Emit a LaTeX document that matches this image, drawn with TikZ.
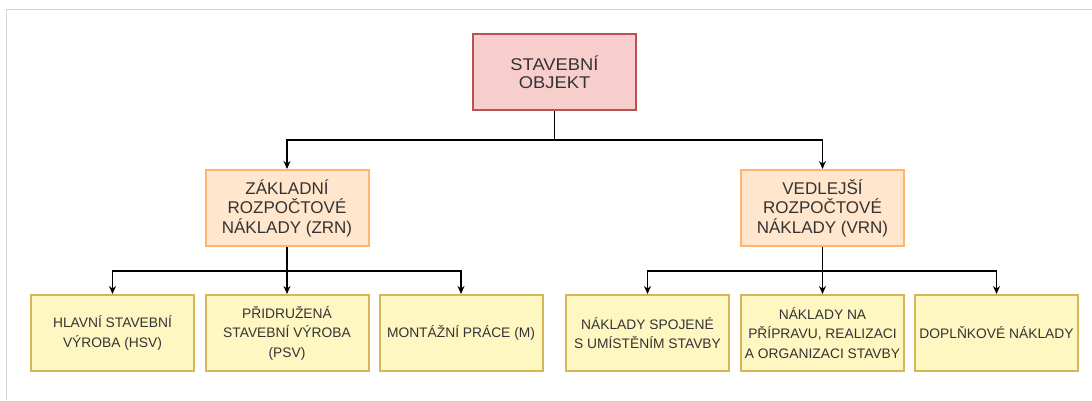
\documentclass[tikz,border=0pt]{standalone}
\usepackage{fontspec}
\setmainfont{Liberation Sans}
\newfontfamily\widefont[FakeStretch=1.08]{Liberation Sans}
\usetikzlibrary{arrows.meta}
\definecolor{framecol}{HTML}{D4D4D4}
\definecolor{redfill}{HTML}{F8CECC}
\definecolor{reddraw}{HTML}{B85450}
\definecolor{orfill}{HTML}{FFE6CC}
\definecolor{ordraw}{HTML}{FFB570}
\definecolor{yefill}{HTML}{FFF7C2}
\definecolor{yedraw}{HTML}{D6B656}
\definecolor{txt}{HTML}{333333}
\tikzset{
  box/.style={draw, line width=2pt, minimum width=163, minimum height=76,
    align=center, inner sep=0pt, text=txt},
  rootbox/.style={box, fill=redfill, draw=reddraw, font=\widefont\fontsize{17}{18}\selectfont},
  midbox/.style={box, fill=orfill, draw=ordraw, font=\fontsize{17}{19.5}\selectfont},
  leafbox/.style={box, fill=yefill, draw=yedraw, font=\fontsize{13.8}{19.5}\selectfont},
  conn/.style={line width=1.3pt, black},
  arr/.style={conn, -{Stealth[length=8pt,width=7pt]}},
}
\begin{document}
\begin{tikzpicture}[x=1pt,y=-1pt]
\useasboundingbox (0,0) rectangle (1092,400);
\fill[white] (0,0) rectangle (1092,400);
\draw[framecol, line width=1.5pt] (6.5,400) |- (1092,9.5);

\node[rootbox] (root) at (554.5,72) {STAVEBNÍ\\OBJEKT};
\node[midbox] (zrn) at (287,208) {ZÁKLADNÍ\\ROZPOČTOVÉ\\NÁKLADY (ZRN)};
\node[midbox] (vrn) at (822.5,208) {VEDLEJŠÍ\\ROZPOČTOVÉ\\NÁKLADY (VRN)};

\node[leafbox] (hsv) at (112.5,333) {HLAVNÍ STAVEBNÍ\\VÝROBA (HSV)};
\node[leafbox] (psv) at (287,333) {PŘIDRUŽENÁ\\STAVEBNÍ VÝROBA\\(PSV)};
\node[leafbox] (m) at (461,333) {MONTÁŽNÍ PRÁCE (M)};
\node[leafbox] (ums) at (647.5,333) {NÁKLADY SPOJENÉ\\S UMÍSTĚNÍM STAVBY};
\node[leafbox] (pri) at (822.5,333) {NÁKLADY NA\\PŘÍPRAVU, REALIZACI\\A ORGANIZACI STAVBY};
\node[leafbox] (dop) at (996.5,333) {DOPLŇKOVÉ NÁKLADY};

\coordinate (j0) at (554.5,140);
\coordinate (j1) at (287,271);
\coordinate (j2) at (822.5,271);

\draw[conn] (root.south) -- (j0);
\draw[arr] (j0) -| (zrn.north);
\draw[arr] (j0) -| (vrn.north);

\draw[arr] (zrn.south) -- (psv.north);
\draw[arr] (j1) -| (hsv.north);
\draw[arr] (j1) -| (m.north);

\draw[arr] (vrn.south) -- (pri.north);
\draw[arr] (j2) -| (ums.north);
\draw[arr] (j2) -| (dop.north);
\end{tikzpicture}
\end{document}
